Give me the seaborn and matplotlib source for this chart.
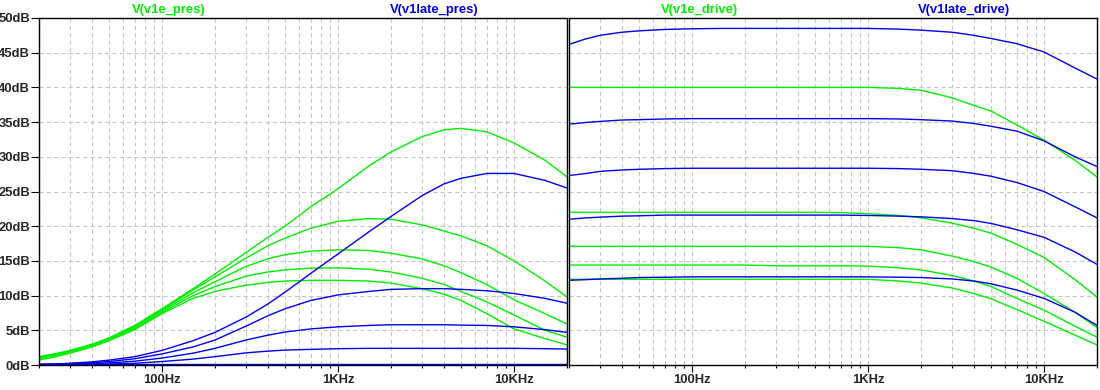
import numpy as np
import pandas as pd
import matplotlib
matplotlib.use("Agg")
import matplotlib.pyplot as plt
import seaborn as sns
from matplotlib.ticker import LogLocator, NullFormatter

# ---------------- data ----------------
freq_hz = [20, 25, 30, 40, 50, 70, 100, 150, 200, 300, 400, 500, 700,
           1000, 1500, 2000, 3000, 4000, 5000, 7000, 10000, 15000, 20000]

# left panel: V(v1e_pres) (green), 5 steps
v1e_pres = [
    [1.2, 1.65, 2.1, 3.0, 3.9, 5.7, 8.1, 11.0, 13.1, 16.2, 18.4, 20.0, 22.8,
     25.4, 28.7, 30.7, 32.9, 33.9, 34.1, 33.6, 32.0, 29.5, 27.1],
    [1.1, 1.6, 2.0, 2.9, 3.8, 5.6, 8.0, 10.8, 12.7, 15.4, 17.2, 18.3, 19.7,
     20.7, 21.1, 21.0, 20.2, 19.3, 18.6, 17.2, 15.0, 12.1, 9.8],
    [1.0, 1.5, 1.95, 2.8, 3.7, 5.5, 7.8, 10.4, 12.0, 14.2, 15.3, 15.9, 16.4,
     16.6, 16.5, 16.1, 15.3, 14.3, 13.3, 11.6, 9.4, 7.4, 5.9],
    [0.9, 1.4, 1.85, 2.7, 3.6, 5.3, 7.6, 10.0, 11.3, 12.8, 13.4, 13.7, 13.95,
     14.0, 13.8, 13.4, 12.5, 11.6, 10.6, 9.1, 7.2, 5.0, 4.0],
    [0.7, 1.2, 1.7, 2.6, 3.5, 5.1, 7.4, 9.6, 10.6, 11.5, 11.9, 12.1, 12.2,
     12.2, 12.1, 11.8, 11.0, 10.2, 9.3, 7.4, 5.2, 3.8, 2.9],
]
# left panel: V(v1late_pres) (blue), 5 steps
v1late_pres = [
    [0.1, 0.15, 0.25, 0.45, 0.7, 1.2, 2.1, 3.5, 4.7, 6.9, 8.8, 10.5, 13.2,
     16.0, 19.2, 21.4, 24.4, 26.1, 26.9, 27.6, 27.6, 26.6, 25.5],
    [0.1, 0.15, 0.2, 0.35, 0.5, 0.9, 1.6, 2.6, 3.6, 5.6, 7.1, 8.1, 9.3,
     10.1, 10.6, 10.9, 11.0, 11.0, 10.9, 10.7, 10.3, 9.6, 8.9],
    [0.05, 0.08, 0.12, 0.2, 0.3, 0.55, 1.0, 1.7, 2.4, 3.6, 4.3, 4.75, 5.2,
     5.5, 5.7, 5.8, 5.8, 5.8, 5.75, 5.7, 5.5, 5.1, 4.7],
    [0.02, 0.03, 0.05, 0.09, 0.13, 0.25, 0.5, 0.85, 1.2, 1.75, 2.0, 2.15, 2.25,
     2.35, 2.4, 2.4, 2.4, 2.4, 2.4, 2.4, 2.4, 2.35, 2.3],
    [0.1] * 23,
]
# right panel: V(v1e_drive) (green), 5 steps
v1e_drive = [
    [40.0, 40.0, 40.0, 40.0, 40.0, 40.0, 40.0, 40.0, 40.0, 40.0, 40.0, 40.0, 40.0,
     40.0, 39.85, 39.6, 38.5, 37.4, 36.6, 34.6, 32.4, 29.5, 27.1],
    [22.0, 22.0, 22.0, 22.0, 22.0, 22.0, 22.0, 22.0, 22.0, 22.0, 22.0, 22.0, 21.95,
     21.8, 21.55, 21.2, 20.45, 19.7, 19.0, 17.4, 15.5, 12.3, 9.8],
    [17.1, 17.1, 17.1, 17.1, 17.1, 17.1, 17.1, 17.1, 17.1, 17.1, 17.1, 17.1, 17.1,
     17.1, 16.9, 16.6, 15.7, 14.9, 14.1, 12.5, 10.3, 7.6, 5.4],
    [14.4, 14.4, 14.4, 14.4, 14.4, 14.4, 14.4, 14.4, 14.4, 14.3, 14.3, 14.3, 14.3,
     14.25, 14.0, 13.7, 12.9, 12.1, 11.3, 9.6, 7.9, 5.6, 4.0],
    [12.35, 12.35, 12.35, 12.35, 12.35, 12.35, 12.35, 12.35, 12.35, 12.35, 12.35, 12.35, 12.35,
     12.35, 12.1, 11.8, 11.1, 10.3, 9.55, 8.0, 6.3, 4.3, 2.9],
]
# right panel: V(v1late_drive) (blue), 5 steps
v1late_drive = [
    [46.2, 47.0, 47.5, 47.95, 48.15, 48.35, 48.45, 48.5, 48.5, 48.5, 48.5, 48.5, 48.5,
     48.5, 48.4, 48.25, 47.95, 47.5, 47.05, 46.3, 45.1, 42.8, 41.2],
    [34.7, 34.95, 35.1, 35.3, 35.35, 35.45, 35.5, 35.5, 35.5, 35.5, 35.5, 35.5, 35.5,
     35.5, 35.45, 35.35, 35.15, 34.8, 34.4, 33.7, 32.3, 30.0, 28.6],
    [27.3, 27.6, 27.9, 28.1, 28.2, 28.3, 28.35, 28.35, 28.35, 28.35, 28.35, 28.35, 28.35,
     28.35, 28.3, 28.2, 28.0, 27.6, 27.2, 26.3, 25.0, 22.8, 21.2],
    [21.0, 21.2, 21.3, 21.45, 21.5, 21.6, 21.6, 21.6, 21.6, 21.6, 21.6, 21.6, 21.6,
     21.55, 21.45, 21.35, 21.1, 20.8, 20.4, 19.5, 18.4, 16.3, 14.5],
    [12.2, 12.3, 12.4, 12.5, 12.6, 12.65, 12.7, 12.7, 12.7, 12.7, 12.7, 12.7, 12.7,
     12.7, 12.65, 12.6, 12.4, 12.1, 11.7, 10.8, 9.6, 7.6, 5.7],
]

left_labels = ["V(v1e_pres)", "V(v1late_pres)"]
right_labels = ["V(v1e_drive)", "V(v1late_drive)"]
x_tick_values = [100, 1000, 10000]
x_tick_labels = ["100Hz", "1KHz", "10KHz"]
y_tick_values = list(range(0, 55, 5))
y_tick_labels = [f"{v}dB" for v in y_tick_values]

GREEN = "#00ee00"
BLUE = "#0000ee"

# ---------------- style ----------------
sns.set_style("white")
plt.rcParams["font.family"] = ["Liberation Sans", "DejaVu Sans"]

W, H = 1100, 390
fig = plt.figure(figsize=(W / 100, H / 100), dpi=100)
ax_l = fig.add_axes([39 / W, 25 / H, 528 / W, 347 / H])
ax_r = fig.add_axes([569 / W, 25 / H, 528 / W, 347 / H])


def long_frame(green_sets, blue_sets):
    rows = []
    for name, sets in (("green", green_sets), ("blue", blue_sets)):
        for k, vals in enumerate(sets):
            for f, v in zip(freq_hz, vals):
                rows.append({"freq": f, "dB": v, "trace": name, "step": f"{name}{k}"})
    return pd.DataFrame(rows)


panels = [
    (ax_l, long_frame(v1e_pres, v1late_pres), left_labels, 39),
    (ax_r, long_frame(v1e_drive, v1late_drive), right_labels, 569),
]

for ax, df, labels, x0 in panels:
    ax.set_xscale("log")
    sns.lineplot(data=df, x="freq", y="dB", hue="trace", units="step",
                 estimator=None, sort=False, legend=False,
                 palette={"green": GREEN, "blue": BLUE},
                 linewidth=1.0, ax=ax)
    ax.set_xlim(20, 20000)
    ax.set_ylim(0, 50)
    ax.set_xlabel("")
    ax.set_ylabel("")
    ax.set_xticks(x_tick_values, x_tick_labels, fontsize=9.4, fontweight="bold")
    ax.xaxis.set_minor_locator(LogLocator(base=10, subs=np.arange(2, 10)))
    ax.xaxis.set_minor_formatter(NullFormatter())
    ax.set_yticks(y_tick_values, y_tick_labels, fontsize=9.4, fontweight="bold")
    ax.set_axisbelow(True)
    ax.grid(True, which="both", axis="x", color="#c4c4c4", linewidth=0.75,
            linestyle=(0, (4, 3)))
    ax.grid(True, which="major", axis="y", color="#c4c4c4", linewidth=0.75,
            linestyle=(0, (4, 3)))
    for s in ax.spines.values():
        s.set_color("black")
        s.set_linewidth(1.0)
    ax.tick_params(axis="x", which="major", direction="out", length=5,
                   width=0.8, color="black", pad=1.5, bottom=True)
    ax.tick_params(axis="x", which="minor", direction="out", length=2.5,
                   width=0.8, color="black", bottom=True)
    ax.tick_params(axis="y", which="major", direction="out", length=6,
                   width=0.8, color="black", pad=0.5, left=True)
    # trace names above the panel
    fig.text((x0 + 130) / W, (H - 9.5) / H, labels[0], color=GREEN,
             ha="center", va="center", fontsize=9.4, fontweight="bold")
    fig.text((x0 + 395) / W, (H - 9.5) / H, labels[1], color=BLUE,
             ha="center", va="center", fontsize=9.4, fontweight="bold")

ax_r.tick_params(axis="y", which="both", left=False, labelleft=False)

fig.savefig("out.png", dpi=100)
